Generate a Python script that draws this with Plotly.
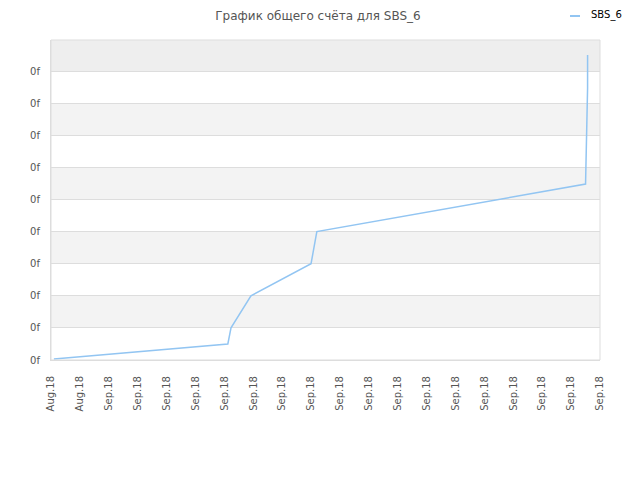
import plotly.graph_objects as go

# Data (x in tick-index units, y in gridline units)
x_vals = [0.1, 6.12, 6.23, 6.92, 9.0, 9.2, 18.5, 18.53, 18.57, 18.57]
y_vals = [0.03, 0.5, 1.0, 2.0, 3.0, 4.0, 5.48, 6.48, 8.47, 9.5]
tick_labels = ["Aug.18", "Aug.18"] + ["Sep.18"] * 18
y_tick_labels = ["0f"] * 10
series_name = "SBS_6"
title_text = "График общего счёта для SBS_6"
line_color = "#92c5f2"

y_top = 9.97
fig = go.Figure()
fig.add_trace(go.Scatter(x=x_vals, y=y_vals, mode="lines", name=series_name,
                         line=dict(color=line_color, width=1.5), showlegend=False))

shapes = []
for i in range(10):
    y0 = i
    y1 = min(i + 1, y_top)
    if i % 2 == 1:
        col = "#eeeeee" if i == 9 else "#f3f3f3"
        shapes.append(dict(type="rect", xref="paper", yref="y", x0=0, x1=1, y0=y0, y1=y1,
                           fillcolor=col, line=dict(width=0), layer="below"))
shapes.append(dict(type="rect", xref="paper", yref="paper", x0=0, x1=1, y0=0, y1=1,
                   line=dict(color="#dddddd", width=1), fillcolor="rgba(0,0,0,0)"))
# legend sample (manual, short line like reference)
shapes.append(dict(type="line", xref="paper", yref="paper",
                   x0=(570 - 51) / 549, x1=(580 - 51) / 549,
                   y0=(360 - 16) / 320, y1=(360 - 16) / 320,
                   line=dict(color=line_color, width=2)))
fig.update_layout(shapes=shapes)
fig.add_annotation(text=series_name, xref="paper", yref="paper",
                   x=(589 - 51) / 549, y=(360 - 15) / 320, xanchor="left", yanchor="middle",
                   showarrow=False, font=dict(size=10, color="#000000"))

fig.update_layout(
    width=640, height=480,
    margin=dict(l=43, r=48, t=32, b=128, autoexpand=False),
    paper_bgcolor="white", plot_bgcolor="white",
    font=dict(family="DejaVu Sans", size=11, color="#555555"),
    title=dict(text=title_text, x=310 / 640, xanchor="center", y=1 - 8 / 480, yanchor="middle",
               font=dict(size=12, color="#555555")),
    showlegend=False,
    xaxis=dict(range=[0, 19], tickvals=list(range(20)), ticktext=tick_labels,
               tickangle=-90, showgrid=False, zeroline=False, showline=True,
               linecolor="#dddddd", ticks="outside", ticklen=11, tickcolor="rgba(0,0,0,0)",
               tickfont=dict(size=10), automargin=False),
    yaxis=dict(range=[0, y_top], tickvals=list(range(10)), ticktext=y_tick_labels,
               showgrid=True, gridcolor="#dddddd", zeroline=False, showline=True,
               linecolor="#dddddd", ticks="outside", ticklen=8, tickcolor="rgba(0,0,0,0)",
               tickfont=dict(size=10), automargin=False),
)
fig.write_html("out.html")
